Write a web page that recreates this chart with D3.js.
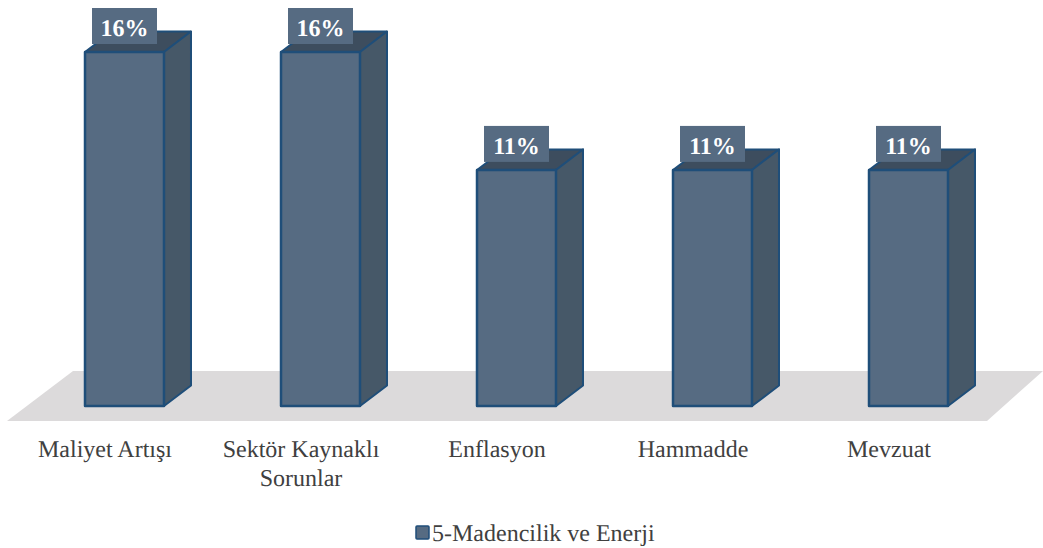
<!DOCTYPE html>
<html><head><meta charset="utf-8">
<style>html,body{margin:0;padding:0;background:#fff}svg{display:block}text{text-rendering:geometricPrecision}</style>
<script src="https://cdn.jsdelivr.net/npm/d3@7"></script></head>
<body><svg id="c" width="1043" height="548"></svg>
<script>
const categories = ["Maliyet Artışı", "Sektör Kaynaklı Sorunlar", "Enflasyon", "Hammadde", "Mevzuat"];
const categoryLines = [["Maliyet Artışı"], ["Sektör Kaynaklı", "Sorunlar"], ["Enflasyon"], ["Hammadde"], ["Mevzuat"]];
const values = [16, 16, 10.67, 10.67, 10.67];
const seriesName = "5-Madencilik ve Enerji";

const svg = d3.select("#c");
const font = "'Liberation Serif','Times New Roman',serif";
const x = d3.scaleBand().domain(categories).range([26.5, 1006.5]).paddingInner(0.597).paddingOuter(0.2985);
const y = d3.scaleLinear().domain([0, 16]).range([406, 52]);
const dx = 27, dy = -20.5;
const line = d3.line();

// floor
svg.append("path").attr("fill", "#dcdadb").attr("d",
  line([[7, 421], [987, 421], [1043, 371], [73, 371]]) + "Z");

const bars = svg.append("g").selectAll("g").data(values).join("g");
const stroke = "#1f4e79";
const L = (d, i) => x(categories[i]), R = (d, i) => L(d, i) + x.bandwidth();
bars.append("path").attr("fill", "#3d4d5e").attr("stroke", stroke).attr("stroke-width", 2).attr("stroke-linejoin", "round")
  .attr("d", (d, i) => line([[L(d, i), y(d)], [R(d, i), y(d)], [R(d, i) + dx, y(d) + dy], [L(d, i) + dx, y(d) + dy]]) + "Z");
bars.append("path").attr("fill", "#465868").attr("stroke", stroke).attr("stroke-width", 2).attr("stroke-linejoin", "round")
  .attr("d", (d, i) => line([[R(d, i), y(d)], [R(d, i) + dx, y(d) + dy], [R(d, i) + dx, y(0) + dy], [R(d, i), y(0)]]) + "Z");
bars.append("rect").attr("fill", "#566b82").attr("stroke", stroke).attr("stroke-width", 2.5).attr("stroke-linejoin", "round")
  .attr("x", L).attr("y", d => y(d)).attr("width", x.bandwidth()).attr("height", d => y(0) - y(d));

// value labels
bars.append("rect").attr("fill", "#566b82")
  .attr("x", (d, i) => L(d, i) + x.bandwidth() / 2 - 32.5).attr("y", d => y(d) - 44).attr("width", 65).attr("height", 36);
bars.append("text").attr("fill", "#fff").attr("font-family", font).attr("font-weight", "bold").attr("font-size", 24)
  .attr("text-anchor", "middle").attr("x", (d, i) => L(d, i) + x.bandwidth() / 2).attr("y", d => y(d) - 16)
  .text(d => d3.format(".0f")(d) + "%");

// category labels
svg.append("g").selectAll("text").data(categories).join("text")
  .attr("font-family", font).attr("font-size", 24).attr("fill", "#404040").attr("text-anchor", "middle")
  .attr("transform", d => `translate(${x(d) + x.bandwidth() / 2 - 19.5},0)`)
  .each(function (d, i) {
    d3.select(this).selectAll("tspan").data(categoryLines[i]).join("tspan")
      .attr("x", 0).attr("y", (s, j) => 457 + j * 29).text(s => s);
  });

// legend
svg.append("rect").attr("x", 416).attr("y", 526).attr("width", 13).attr("height", 13).attr("rx", 1)
  .attr("fill", "#566b82").attr("stroke", stroke).attr("stroke-width", 1.5);
svg.append("text").attr("x", 432).attr("y", 541).attr("font-family", font).attr("font-size", 24).attr("fill", "#404040").text(seriesName);
</script></body></html>
